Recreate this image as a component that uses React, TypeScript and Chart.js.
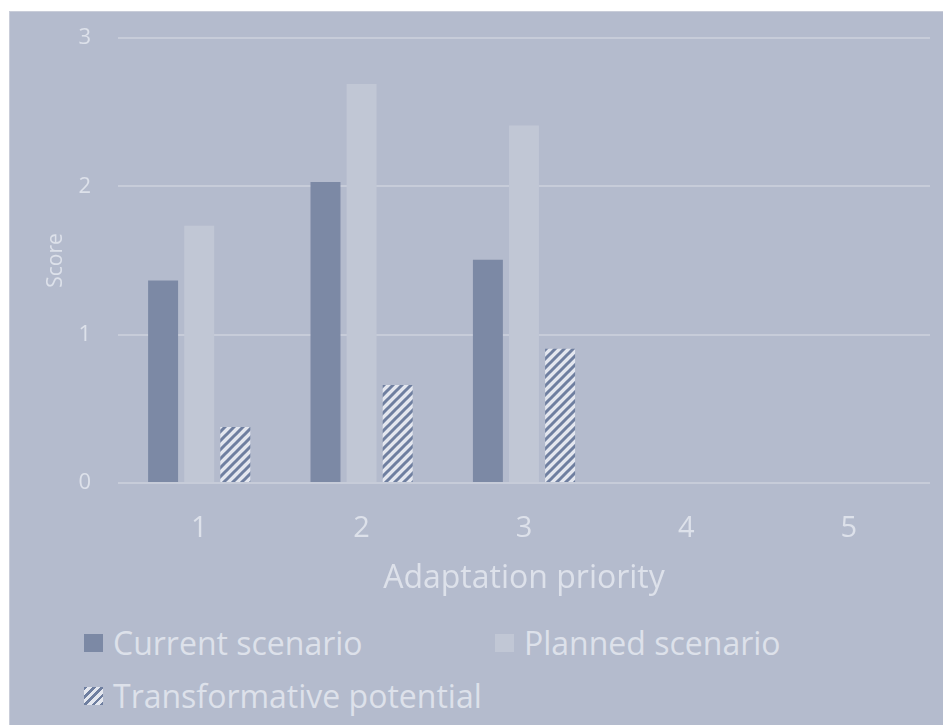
import React, { useEffect, useRef } from "react";
import { Chart, registerables } from "chart.js";

Chart.register(...registerables);

const categories = ["1", "2", "3", "4", "5"];
const currentScenario = [1.365, 2.03, 1.505];
const plannedScenario = [1.735, 2.69, 2.41];
const transformativePotential = [0.378, 0.66, 0.905];
const yTicks = [0, 1, 2, 3];

const BG = "#b4bbcd";
const TEXT = "#dde1ea";
const GRID = "#c7ccd9";
const DARK = "#7c89a5";
const LIGHT = "#c1c7d5";
const STRIPE = "#6f7fa0";
const STRIPE_BG = "#e4e7ef";
const FONT = "'Open Sans', sans-serif";

function makePattern(): CanvasPattern | string {
  const n = 9;
  const c = document.createElement("canvas");
  c.width = n;
  c.height = n;
  const ctx = c.getContext("2d");
  if (!ctx) return STRIPE;
  ctx.fillStyle = STRIPE_BG;
  ctx.fillRect(0, 0, n, n);
  ctx.strokeStyle = STRIPE;
  ctx.lineWidth = 3;
  ctx.lineCap = "square";
  ctx.beginPath();
  ctx.moveTo(0, n);
  ctx.lineTo(n, 0);
  ctx.moveTo(-2, 2);
  ctx.lineTo(2, -2);
  ctx.moveTo(n - 2, n + 2);
  ctx.lineTo(n + 2, n - 2);
  ctx.stroke();
  const p = ctx.createPattern(c, "repeat");
  return p || STRIPE;
}

export default function App() {
  const ref = useRef<HTMLCanvasElement | null>(null);

  useEffect(() => {
    if (!ref.current) return;
    const pattern = makePattern();
    const chart = new Chart(ref.current, {
      type: "bar",
      data: {
        labels: categories,
        datasets: [
          { label: "Current scenario", data: currentScenario, backgroundColor: DARK },
          { label: "Planned scenario", data: plannedScenario, backgroundColor: LIGHT },
          { label: "Transformative potential", data: transformativePotential, backgroundColor: pattern as any },
        ],
      },
      options: {
        animation: false,
        responsive: true,
        maintainAspectRatio: false,
        datasets: { bar: { categoryPercentage: 0.667, barPercentage: 0.83 } },
        layout: { padding: { top: 26, right: 12, left: 0, bottom: 0 } },
        plugins: { legend: { display: false }, tooltip: { enabled: false } },
        scales: {
          x: {
            grid: { display: false, drawTicks: false },
            border: { display: false },
            ticks: { color: TEXT, font: { family: FONT, size: 29 }, padding: 28 },
            title: {
              display: true,
              text: "Adaptation priority",
              color: TEXT,
              font: { family: FONT, size: 32 },
              padding: { top: 0, bottom: 14 },
            },
            afterFit: (s: any) => {
              s.height = 129;
            },
          },
          y: {
            min: 0,
            max: 3,
            afterBuildTicks: (s: any) => {
              s.ticks = yTicks.map((v) => ({ value: v }));
            },
            grid: {
              color: GRID,
              lineWidth: 2,
              drawTicks: true,
              tickLength: 27,
              tickColor: "rgba(0,0,0,0)",
            },
            border: { display: false },
            ticks: { color: TEXT, font: { family: FONT, size: 22 }, padding: 0 },
            title: {
              display: true,
              text: "Score",
              color: TEXT,
              font: { family: FONT, size: 21 },
              padding: { top: 33, bottom: 0 },
            },
            afterFit: (s: any) => {
              s.width = 108;
            },
          },
        },
      },
    });
    return () => chart.destroy();
  }, []);

  const itemStyle: React.CSSProperties = {
    position: "absolute",
    display: "flex",
    alignItems: "center",
    color: TEXT,
    fontFamily: FONT,
    fontSize: 32,
    lineHeight: "40px",
    whiteSpace: "nowrap",
  };
  const sw: React.CSSProperties = { width: 19, height: 18, marginRight: 10, flex: "none" };

  return (
    <div
      style={{
        position: "absolute",
        left: 9,
        top: 11,
        width: 934,
        height: 714,
        boxSizing: "border-box",
        background: BG,
        borderTop: "1.5px solid #c9cdd9",
        borderLeft: "1.5px solid #c9cdd9",
        overflow: "hidden",
      }}
    >
      <div style={{ position: "relative", width: 932, height: 600 }}>
        <canvas ref={ref} />
      </div>
      <div style={{ ...itemStyle, left: 74, top: 611 }}>
        <span style={{ ...sw, background: DARK }} />
        <span>Current scenario</span>
      </div>
      <div style={{ ...itemStyle, left: 485, top: 611 }}>
        <span style={{ ...sw, background: LIGHT }} />
        <span>Planned scenario</span>
      </div>
      <div style={{ ...itemStyle, left: 74, top: 664 }}>
        <span
          style={{
            ...sw,
            background: `repeating-linear-gradient(135deg, ${STRIPE} 0px, ${STRIPE} 2.5px, ${STRIPE_BG} 2.5px, ${STRIPE_BG} 6px)`,
          }}
        />
        <span>Transformative potential</span>
      </div>
    </div>
  );
}
